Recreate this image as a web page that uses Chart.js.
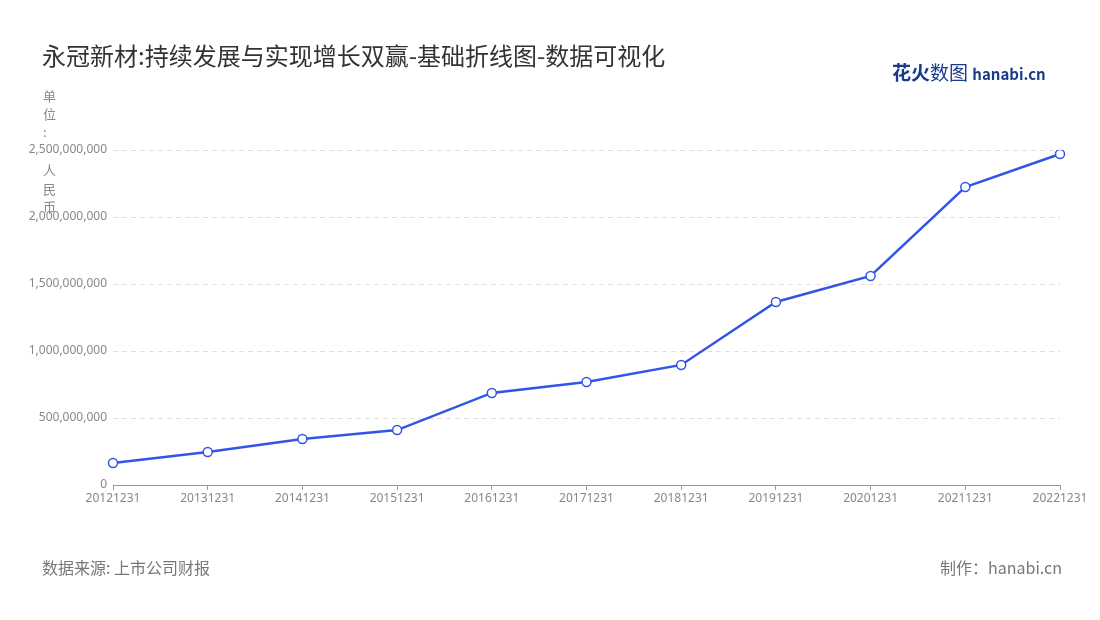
<!DOCTYPE html>
<html><head><meta charset="utf-8">
<script src="https://cdn.jsdelivr.net/npm/chart.js@4"></script>
<style>
body{margin:0;width:1100px;height:620px;position:relative;background:#fff;font-family:"Noto Sans CJK SC","Noto Sans",sans-serif;overflow:hidden}
#c{position:absolute;left:0;top:0}
.t{position:absolute;white-space:nowrap}
.u{position:absolute;left:43px;font-size:13px;color:#888}
</style></head><body>
<canvas id="c" width="1100" height="620"></canvas>
<div class="t" style="left:42px;top:37px;font-size:24px;color:#333">永冠新材:持续发展与实现增长双赢-基础折线图-数据可视化</div>
<div class="t" style="left:892px;top:58px;font-size:19px;font-weight:bold;color:#1a3a8c">花火<span style="font-weight:normal">数图</span> <span style="font-size:15px">hanabi.cn</span></div>
<div class="u" style="top:86px">单</div><div class="u" style="top:104px">位</div><div class="u" style="top:122px">:</div>
<div class="u" style="top:160px">人</div><div class="u" style="top:179px">民</div><div class="u" style="top:197px">币</div>
<div class="t" style="left:42px;top:555px;font-size:16px;color:#777">数据来源: 上市公司财报</div>
<div class="t" style="left:940px;top:555px;font-size:16px;color:#777">制作：hanabi.cn</div>
<script>
const categories=["20121231","20131231","20141231","20151231","20161231","20171231","20181231","20191231","20201231","20211231","20221231"];
const values=[164000000,246000000,343000000,410000000,687000000,769000000,896000000,1366000000,1560000000,2224000000,2470000000];
new Chart(document.getElementById('c'),{type:'line',
data:{labels:categories,datasets:[{data:values,borderColor:'#3355e6',borderWidth:2.5,backgroundColor:'#fff',pointBackgroundColor:'#fff',pointBorderColor:'#3355e6',pointBorderWidth:1.5,pointRadius:4.5,tension:0}]},
options:{responsive:false,animation:false,layout:{padding:{top:150,right:40,left:0,bottom:0}},
plugins:{legend:{display:false},tooltip:{enabled:false}},
scales:{
x:{afterFit:s=>{s.height=135},grid:{display:true,drawOnChartArea:false,drawTicks:true,tickLength:5,color:'#999'},border:{color:'#999'},ticks:{color:'#888',font:{size:12,family:'Noto Sans'},maxRotation:0,autoSkip:false,padding:1}},
y:{min:0,max:2500000000,afterFit:s=>{s.width=113},grid:{color:'#e0e0e0',drawTicks:false},border:{display:false,dash:[5,4]},
ticks:{stepSize:500000000,color:'#888',padding:6,font:{size:12,family:'Noto Sans'},callback:v=>v.toLocaleString('en-US')}}
}}});
</script></body></html>
